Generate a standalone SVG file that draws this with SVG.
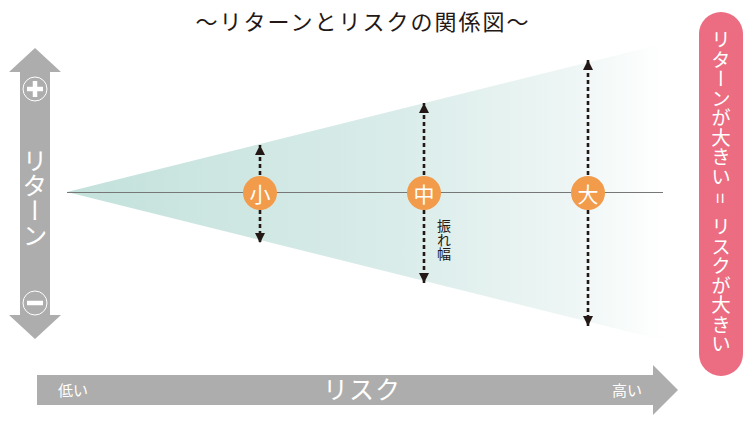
<svg xmlns="http://www.w3.org/2000/svg" width="750" height="424" viewBox="0 0 750 424">
<defs>
<linearGradient id="cone" gradientUnits="userSpaceOnUse" x1="67" y1="0" x2="662" y2="0">
<stop offset="0" stop-color="#c3e1db"/>
<stop offset="0.55" stop-color="#d9ece9"/>
<stop offset="0.85" stop-color="#eef6f5"/>
<stop offset="1" stop-color="#ffffff"/>
</linearGradient>
<marker id="ah" viewBox="0 0 10 10" refX="10" refY="5" markerWidth="10" markerHeight="11" markerUnits="userSpaceOnUse" orient="auto">
<path d="M0,0 L10,5 L0,10 Z" fill="#231815"/>
</marker>
</defs>
<style>
.jp{font-family:"Noto Sans CJK JP","Noto Sans CJK SC",sans-serif}
.gray{fill:#adadad}
.dash{stroke:#231815;stroke-width:2.6;stroke-dasharray:4 3;fill:none}
.dot{fill:#f29b4a}
.dotlab{fill:#fff;font-size:21px;text-anchor:middle;dominant-baseline:central}
.vt{writing-mode:vertical-rl;fill:#fff}
</style>
<rect width="750" height="424" fill="#fff"/>

<text class="jp" x="362" y="30" font-size="22" fill="#231815" text-anchor="middle" textLength="333" lengthAdjust="spacing">～リターンとリスクの関係図～</text>

<g id="cone-area">
<polygon points="67,192 662,44 662,340" fill="url(#cone)"/>
</g>

<g id="return-axis">
<polygon class="gray" points="35,48 61,72 50,72 50,315 61,315 35,339 9,315 20,315 20,72 9,72"/>
<circle cx="35" cy="89" r="12" fill="none" stroke="#fff" stroke-width="1"/>
<path d="M27,89 H43 M35,81 V97" stroke="#fff" stroke-width="4.5"/>
<circle cx="35" cy="303" r="12" fill="none" stroke="#fff" stroke-width="1"/>
<path d="M27,303 H43" stroke="#fff" stroke-width="4.5"/>
<text class="jp vt" x="35" y="148" font-size="25">リターン</text>
</g>

<g id="risk-axis">
<polygon class="gray" points="37,375 653,375 653,365 678,390 653,415 653,405 37,405"/>
<text class="jp" x="58" y="396" font-size="15" fill="#fff">低い</text>
<text class="jp" x="362" y="399" font-size="25" fill="#fff" text-anchor="middle" letter-spacing="1">リスク</text>
<text class="jp" x="612" y="396" font-size="15" fill="#fff">高い</text>
</g>

<g id="connectors">
<line x1="67" y1="192.5" x2="663" y2="192.5" stroke="#777" stroke-width="1"/>
<line class="dash" x1="260" y1="175" x2="260" y2="145" marker-end="url(#ah)"/>
<line class="dash" x1="260" y1="210" x2="260" y2="243" marker-end="url(#ah)"/>
<line class="dash" x1="424" y1="175" x2="424" y2="103" marker-end="url(#ah)"/>
<line class="dash" x1="424" y1="210" x2="424" y2="283" marker-end="url(#ah)"/>
<line class="dash" x1="588" y1="175" x2="588" y2="60" marker-end="url(#ah)"/>
<line class="dash" x1="588" y1="210" x2="588" y2="326" marker-end="url(#ah)"/>
</g>

<g id="node-small">
<circle class="dot" cx="260" cy="193" r="17"/>
<text class="jp dotlab" x="260" y="193">小</text>
</g>
<g id="node-mid">
<circle class="dot" cx="424" cy="193" r="17"/>
<text class="jp dotlab" x="424" y="193">中</text>
</g>
<g id="node-large">
<circle class="dot" cx="588" cy="193" r="17"/>
<text class="jp dotlab" x="588" y="193">大</text>
</g>

<g id="label-swing">
<text class="jp" x="444" y="219" font-size="14" fill="#231815" style="writing-mode:vertical-rl">振れ幅</text>
</g>

<g id="summary">
<rect x="699" y="12" width="44" height="364" rx="22" fill="#ec6c81"/>
<text class="jp vt" x="721" y="30" font-size="19.5">リターンが大きい</text>
<text class="jp vt" x="721" y="193" font-size="19.5">=</text>
<text class="jp vt" x="721" y="217" font-size="19.5">リスクが大きい</text>
</g>
</svg>
